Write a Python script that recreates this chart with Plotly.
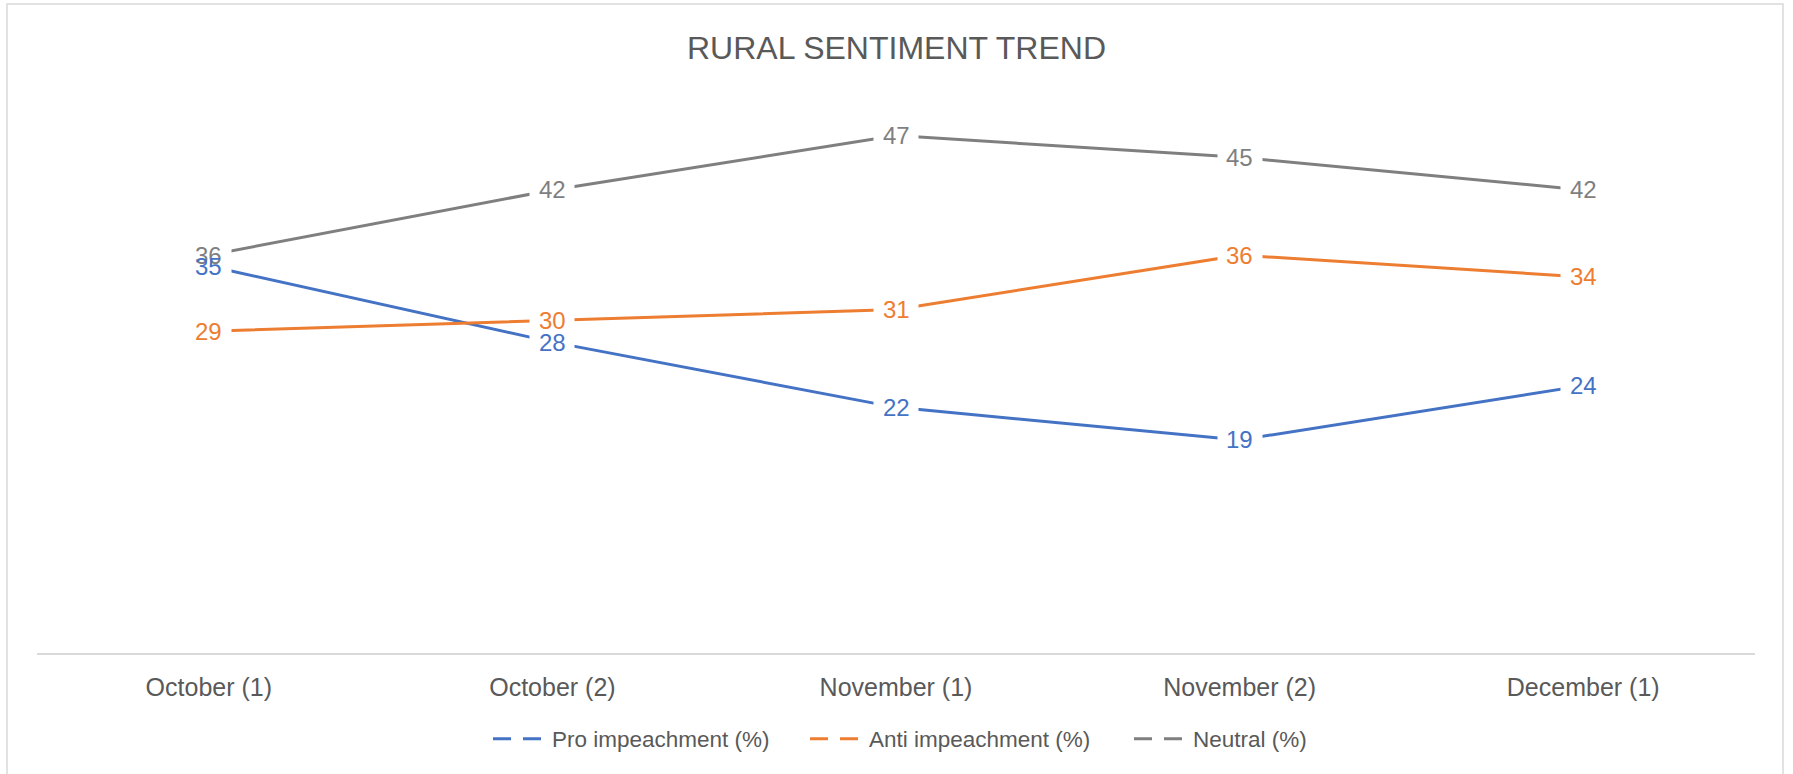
import plotly.graph_objects as go

categories = ["October (1)", "October (2)", "November (1)", "November (2)", "December (1)"]
pro_impeachment = [35, 28, 22, 19, 24]
anti_impeachment = [29, 30, 31, 36, 34]
neutral = [36, 42, 47, 45, 42]

series_names = ["Pro impeachment (%)", "Anti impeachment (%)", "Neutral (%)"]
series_values = [pro_impeachment, anti_impeachment, neutral]
series_colors = ["#4472C4", "#ED7D31", "#7F7F7F"]

W, H = 1793, 774
L, R = 37, 38
T, B = 103, 121
FONT = "Liberation Sans"
pw = W - L - R
ph = H - T - B
axis_px = H - B  # pixel row of the category axis line

fig = go.Figure()

# lines (not in legend)
for name, vals, col in zip(series_names, series_values, series_colors):
    fig.add_trace(go.Scatter(
        x=categories, y=vals, mode="lines", name=name,
        line=dict(color=col, width=3), showlegend=False, hoverinfo="x+y+name",
    ))

# legend keys: dashed, one legend each so they can be spaced like the reference
legend_left_px = [488, 805, 1129]
legend_ids = ["legend", "legend2", "legend3"]
for name, col, lid in zip(series_names, series_colors, legend_ids):
    fig.add_trace(go.Scatter(
        x=[None], y=[None], mode="lines", name=name, legend=lid,
        line=dict(color=col, width=3, dash="18px,12px"), showlegend=True,
    ))

annotations = []
# white boxes that cut the lines around each label
for vals in series_values:
    for c, v in zip(categories, vals):
        annotations.append(dict(
            x=c, y=v, xref="x", yref="y", text="", showarrow=False,
            width=44, height=22, bgcolor="white", borderpad=0,
            xanchor="center", yanchor="middle",
        ))
# label texts (transparent background), neutral first so pro sits on top
for vals, col in zip(series_values[::-1], series_colors[::-1]):
    for c, v in zip(categories, vals):
        annotations.append(dict(
            x=c, y=v, xref="x", yref="y", text=str(v), showarrow=False,
            font=dict(family=FONT, size=24, color=col),
            borderpad=0, xanchor="center", yanchor="middle",
        ))

shapes = [dict(
    type="rect", xref="paper", yref="paper",
    x0=(7 - L) / pw, x1=(1783 - L) / pw,
    y0=(axis_px - 800) / ph, y1=(axis_px - 4) / ph,
    line=dict(color="#D9D9D9", width=1.5), fillcolor="rgba(0,0,0,0)", layer="below",
)]

legend_common = dict(
    orientation="h", xanchor="left", yanchor="middle",
    y=(axis_px - 739) / ph, itemwidth=54,
    font=dict(family=FONT, size=22.5, color="#595959"),
    bgcolor="rgba(0,0,0,0)", borderwidth=0,
)
legends = {}
for lid, px in zip(legend_ids, legend_left_px):
    legends[lid] = dict(legend_common, x=(px - L) / pw)

fig.update_layout(
    width=W, height=H,
    margin=dict(l=L, r=R, t=T, b=B, pad=0),
    paper_bgcolor="white", plot_bgcolor="white",
    title=dict(
        text="RURAL SENTIMENT TREND", x=0.5, xanchor="center",
        y=1 - 48 / H, yanchor="middle", yref="container",
        font=dict(family=FONT, size=32, color="#595959"),
    ),
    xaxis=dict(
        type="category", range=[-0.5, 4.5], showgrid=False, zeroline=False,
        showline=True, linecolor="#D9D9D9", linewidth=1.5,
        ticks="", ticklabelstandoff=11,
        tickfont=dict(family=FONT, size=25, color="#595959"),
        fixedrange=True,
    ),
    yaxis=dict(
        range=[-0.6, 50], showgrid=False, zeroline=False, showline=False,
        showticklabels=False, ticks="", fixedrange=True,
    ),
    annotations=annotations,
    shapes=shapes,
    showlegend=True,
    **legends,
)

fig.write_html(
    "out.html",
    config={"displayModeBar": False},
    post_script="document.body.style.margin='0';document.body.style.overflow='hidden';",
)
